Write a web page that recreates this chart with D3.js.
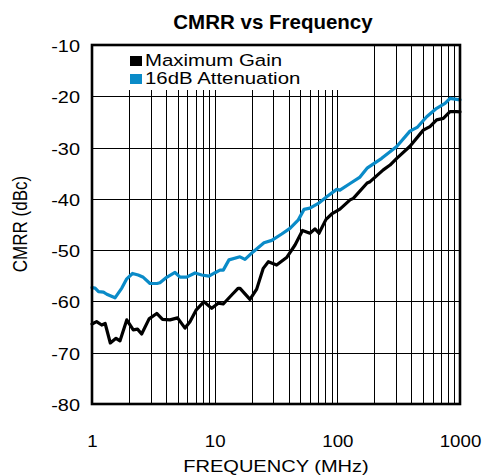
<!DOCTYPE html>
<html>
<head>
<meta charset="utf-8">
<script src="https://cdn.jsdelivr.net/npm/d3@7"></script>
<style>
  html, body { margin: 0; padding: 0; background: #fff; }
  text { font-family: "Liberation Sans", Arial, Helvetica, sans-serif; }
</style>
</head>
<body>
<svg id="chart" width="485" height="475"></svg>
<script>
// ---- data ----
const seriesNames = ["Maximum Gain", "16dB Attenuation"];
const seriesColors = ["#000000", "#0a8bc8"];

const maxGainFreq = [1,1.09,1.2,1.28,1.41,1.57,1.69,1.92,2.17,2.35,2.54,2.92,3.37,3.76,4.32,4.98,5.73,6.29,7.05,8.19,9.46,10.7,11.75,13.76,15.5,16.1,19.4,22.0,24.9,27.4,32.0,38.6,45.2,52.0,59.8,65.7,70.9,80.9,90.0,105,127,135,175,185,237,269,305,391,502,569,645,731,829,940,1000];
const maxGainDb = [-64.4,-63.95,-64.6,-64.3,-68.1,-67.2,-67.7,-63.6,-65.55,-65.4,-66.35,-63.4,-62.35,-63.5,-63.6,-63.2,-65.2,-63.95,-61.7,-60.05,-61.35,-60.35,-60.5,-58.75,-57.45,-57.45,-59.6,-57.6,-53.55,-52.25,-52.9,-51.45,-49.0,-46.15,-46.7,-45.85,-46.7,-44.0,-42.95,-42.0,-40.2,-39.9,-36.9,-36.65,-34.35,-33.4,-32.1,-29.75,-26.6,-25.9,-24.6,-24.3,-23.0,-23.0,-23.05];

const attenFreq = [1,1.06,1.13,1.24,1.32,1.54,1.75,1.92,2.14,2.38,2.62,2.97,3.39,3.58,4.06,4.75,5.22,5.91,6.91,7.84,8.99,10.07,11.05,11.75,13.08,16.08,17.67,20.65,25.25,29.2,35.2,41.1,48.1,53.5,59.8,70,81.9,98.8,105,127,153,176,230,305,391,451,535,645,755,829,940,1000];
const attenDb = [-57.3,-57.4,-58.1,-58.2,-58.6,-59.3,-57.4,-55.6,-54.55,-54.85,-55.3,-56.5,-56.5,-56.35,-55.3,-54.35,-55.25,-55.25,-54.45,-54.85,-55.05,-54.4,-53.9,-53.9,-51.9,-51.3,-51.8,-50.3,-48.55,-48.1,-46.85,-45.75,-44.1,-42.05,-41.8,-40.9,-39.6,-38.15,-38.3,-37.0,-35.75,-33.95,-32.1,-29.8,-26.8,-26.0,-24.0,-22.35,-21.4,-20.4,-20.6,-20.7];

const xTickValues = [1, 10, 100, 1000];
const xTickLabels = ["1", "10", "100", "1000"];
const yTickValues = [-80, -70, -60, -50, -40, -30, -20, -10];
const yTickLabels = ["-80", "-70", "-60", "-50", "-40", "-30", "-20", "-10"];
const xGridValues = [2,3,4,5,6,7,8,9,10,20,30,40,50,60,70,80,90,100,200,300,400,500,600,700,800,900];

const titleText = "CMRR vs Frequency";
const xTitle = "FREQUENCY (MHz)";
const yTitle = "CMRR (dBc)";

// ---- layout ----
const L = 92, R = 460, T = 45, B = 404;
const svg = d3.select("#chart");
const x = d3.scaleLog().domain([1, 1000]).range([L, R]);
const y = d3.scaleLinear().domain([-80, -10]).range([B, T]);

const SX = 1.17; // horizontal stretch of the reference's lettering

function stretchedText(g, px, py, str, opts) {
  const grp = g.append("g").attr("transform", `translate(${px},${py}) scale(${opts.sx || SX},1)`);
  return grp.append("text")
    .attr("x", 0).attr("y", 0)
    .attr("text-anchor", opts.anchor || "start")
    .attr("font-size", opts.size || 17)
    .attr("font-weight", opts.weight || "normal")
    .attr("fill", "#000")
    .text(str);
}

// background of plot
svg.append("rect").attr("x", L).attr("y", T).attr("width", R - L).attr("height", B - T).attr("fill", "#fff");

// grid
const grid = svg.append("g");
grid.selectAll("line.v").data(xGridValues).enter().append("line")
  .attr("x1", d => Math.round(x(d)) + 0.5).attr("x2", d => Math.round(x(d)) + 0.5)
  .attr("y1", T).attr("y2", B)
  .attr("stroke", "#000").attr("stroke-width", 1);
grid.selectAll("line.h").data(yTickValues.slice(1, -1)).enter().append("line")
  .attr("x1", L).attr("x2", R)
  .attr("y1", d => Math.round(y(d)) + 0.5).attr("y2", d => Math.round(y(d)) + 0.5)
  .attr("stroke", "#000").attr("stroke-width", 1);

// legend backdrop hiding the grid
svg.append("rect").attr("x", L).attr("y", T).attr("width", 258).attr("height", 45).attr("fill", "#fff");

// curves
const line = d3.line().x(d => x(d[0])).y(d => y(d[1])).curve(d3.curveLinear);
const series = [
  d3.zip(attenFreq, attenDb),
  d3.zip(maxGainFreq, maxGainDb)
];
const colorsOrdered = [seriesColors[1], seriesColors[0]];
series.forEach((s, i) => {
  svg.append("path").datum(s)
    .attr("d", line)
    .attr("fill", "none")
    .attr("stroke", colorsOrdered[i])
    .attr("stroke-width", 3.2)
    .attr("stroke-linejoin", "round")
    .attr("stroke-linecap", "round");
});

// frame
svg.append("rect").attr("x", L).attr("y", T).attr("width", R - L).attr("height", B - T)
  .attr("fill", "none").attr("stroke", "#000").attr("stroke-width", 2.6);

// axes tick labels via d3 axes (domain/ticks hidden, labels kept)
const xAxis = d3.axisBottom(x).tickValues(xTickValues).tickFormat((d, i) => xTickLabels[i]).tickSize(0);
const gx = svg.append("g").attr("transform", `translate(0,${B})`).call(xAxis);
gx.select(".domain").remove();
gx.selectAll("text").each(function(d, i) {
  const t = d3.select(this);
  t.attr("font-size", 17).attr("font-family", "Liberation Sans, Arial, sans-serif").attr("fill", "#000")
   .attr("dy", null).attr("y", 0)
   .attr("transform", `translate(0,42.5) scale(1.1,1)`);
});

const yAxis = d3.axisLeft(y).tickValues(yTickValues).tickFormat((d, i) => yTickLabels[i]).tickSize(0);
const gy = svg.append("g").attr("transform", `translate(80,0)`).call(yAxis);
gy.select(".domain").remove();
gy.selectAll("text").each(function() {
  const t = d3.select(this);
  t.attr("font-size", 17).attr("font-family", "Liberation Sans, Arial, sans-serif").attr("fill", "#000")
   .attr("x", 0).attr("dy", null).attr("y", 0)
   .attr("text-anchor", "end")
   .attr("transform", `translate(0,6.5) scale(1.17,1)`);
});

// titles
svg.append("text").attr("x", 273).attr("y", 28.5).attr("text-anchor", "middle")
  .attr("font-size", 20.5).attr("font-weight", "bold").attr("fill", "#000").text(titleText);

stretchedText(svg, 276, 471.5, xTitle, { anchor: "middle", size: 17, sx: 1.18 });

svg.append("g").attr("transform", `translate(26.5,224) rotate(-90) scale(1,1.17)`)
  .append("text").attr("x", 0).attr("y", 0).attr("text-anchor", "middle")
  .attr("font-size", 17).attr("fill", "#000").text(yTitle);

// legend
const legendRows = [
  { name: seriesNames[0], color: seriesColors[0], base: 66 },
  { name: seriesNames[1], color: seriesColors[1], base: 84 }
];
legendRows.forEach(r => {
  svg.append("rect").attr("x", 130).attr("y", r.base - 10).attr("width", 12).attr("height", 10).attr("fill", r.color);
  stretchedText(svg, 145, r.base, r.name, { size: 17, sx: 1.2 });
});
</script>
</body>
</html>
